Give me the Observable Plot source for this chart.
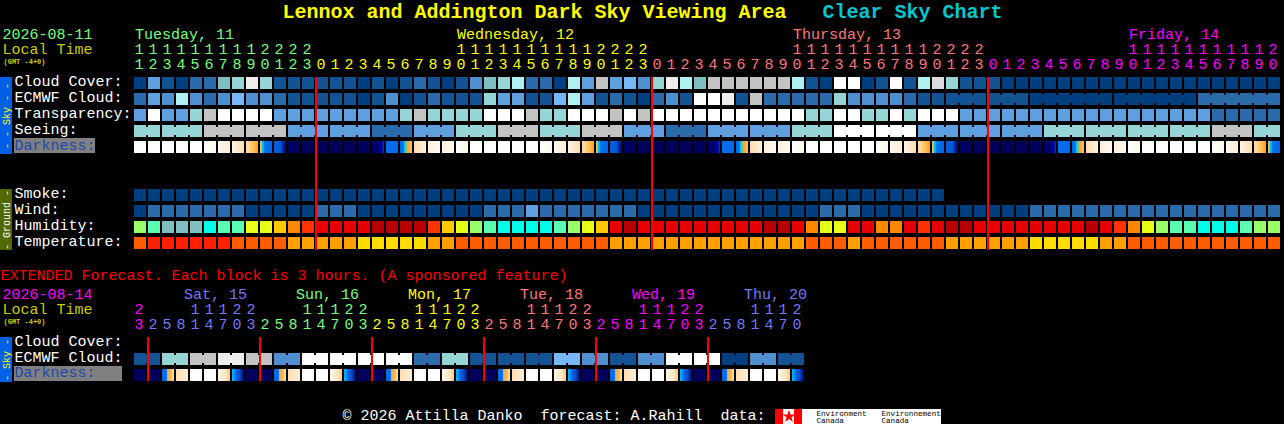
<!DOCTYPE html>
<html><head><meta charset="utf-8">
<script src="https://cdn.jsdelivr.net/npm/d3@7"></script>
<script src="https://cdn.jsdelivr.net/npm/@observablehq/plot@0.6"></script>
<style>html,body{margin:0;padding:0;background:#000;overflow:hidden}svg{display:block}</style>
</head><body><div id="chart"></div>
<script>
// ---------- data: cloud-style levels 0 (overcast) .. 12 (clear), one per hourly column
const hours = [11,12,13,14,15,16,17,18,19,20,21,22,23,
  0,1,2,3,4,5,6,7,8,9,10,11,12,13,14,15,16,17,18,19,20,21,22,23,
  0,1,2,3,4,5,6,7,8,9,10,11,12,13,14,15,16,17,18,19,20,21,22,23,
  0,1,2,3,4,5,6,7,8,9,10,11,12,13,14,15,16,17,18,19,20];
const hourDays = [...Array(13).fill("Tue"),...Array(24).fill("Wed"),...Array(24).fill("Thu"),...Array(21).fill("Fri")];
const cloudCover = [0,4,1,0,2,2,6,7,11,7,1,1,1,1,1,1,0,1,0,1,2,1,0,1,3,6,7,8,2,2,0,8,4,9,4,5,3,7,11,8,6,9,9,9,9,9,9,8,1,0,12,12,0,1,12,1,8,10,7,1,1,1,0,0,0,0,0,0,0,0,0,0,0,0,0,0,0,0,0,0,0,0];
const ecmwfCloud = [2,4,3,8,3,2,3,5,3,3,2,1,1,1,1,1,0,1,3,0,1,2,1,1,1,7,4,4,1,1,5,8,4,1,2,1,0,2,3,1,12,12,11,1,9,2,2,2,2,2,7,3,3,3,3,2,1,1,1,1,1,1,1,1,0,0,0,0,0,0,0,0,0,0,0,0,2,2,2,2,2,2];
const ecmwfSpans = [...Array(58).fill(1),3,3,6,6,6];
const transparency = [4,12,4,4,7,9,12,12,12,12,4,4,4,4,4,4,4,4,4,7,9,7,7,7,7,12,12,12,9,7,7,12,12,12,9,12,9,12,12,12,12,12,12,12,12,12,12,12,7,7,12,12,7,7,12,7,12,12,12,4,4,4,4,4,4,4,4,4,4,4,4,4,4,4,4,4,4,2,2,2,2,2];
const seeing = [7,7,7,7,7,9,9,9,9,9,9,4,4,4,4,4,4,2,2,2,4,4,4,7,7,7,9,9,9,7,7,7,9,9,9,4,4,4,2,2,2,4,4,4,4,4,4,7,7,7,12,12,12,12,12,12,4,4,4,4,4,4,4,4,4,7,7,7,7,7,7,7,7,7,7,7,7,9,9,9,7,7];
const seeingSpans = [2,3,3,3,3,3,3,3,3,3,3,3,3,3,3,3,3,3,3,3,3,3,3,3,3,3,3,2];
const darkness = "W W W W W a b c d e f n n n n n n g h i j k k a W W W W W a b c d e f n n n n n n g h i j k k a W W W W W a b c d e f n n n n n n g h i j k k a W W W W W a b c d e".split(" ");
const smoke = Array(58).fill(0);
const wind = [0,2,2,2,2,2,2,2,0,0,0,0,0,2,2,2,0,0,0,0,0,0,0,0,0,2,2,2,4,2,2,2,2,2,2,2,0,0,0,0,0,0,0,0,0,0,0,0,0,2,2,2,0,0,0,0,0,0,0,0,0,0,0,0,2,2,2,2,2,2,2,2,2,2,2,2,2,2,2,2,2,2];
const humidity = "G H I I I J H H F F E D C B B B B A A A A C E F G H J J J J H G F E B A B B B B B B B B B A A B D F F B B D D B C B A A B B B B B B B B A B C D F G H H J J J H G G".split(" ");
const temperature = [2,1,1,1,1,1,1,2,2,2,2,3,3,3,3,3,4,4,4,4,4,3,3,2,2,2,2,2,2,2,2,2,2,2,3,3,3,3,3,3,3,3,3,3,3,3,3,3,2,2,2,3,2,2,2,2,2,2,3,3,3,3,3,3,4,4,4,4,4,3,3,2,2,2,2,2,2,2,2,2,2,2];
const midnights = [13,37,61];
const dayLabels = [["Tuesday, 11",0,"Tue"],["Wednesday, 12",23,"Wed"],["Thursday, 13",47,"Thu"],["Friday, 14",71,"Fri"]];

const extHours = [23,2,5,8,11,14,17,20,23,2,5,8,11,14,17,20,23,2,5,8,11,14,17,20,23,2,5,8,11,14,17,20,23,2,5,8,11,14,17,20,23,2,5,8,11,14,17,20];
const extDays = ["Fri",...Array(8).fill("Sat"),...Array(8).fill("Sun"),...Array(8).fill("Mon"),...Array(8).fill("TueX"),...Array(8).fill("WedX"),...Array(7).fill("ThuX")];
const extEcmwf = [1,1,7,7,9,9,11,11,9,9,3,3,12,12,12,12,12,12,12,12,2,2,7,7,1,1,1,1,1,1,5,5,3,3,1,1,3,3,12,12,12,12,0,0,3,3,1,1];
const extSpans = Array(24).fill(2);
const extDarkness = "n n p j W W o q n n p j W W o q n n p j W W o q n n p j W W o q n n p j W W o q n n p j W W o q".split(" ");
const extMidnights = [1,9,17,25,33,41];
const extDayLabels = [["Sat, 15",3.5,"Sat"],["Sun, 16",11.5,"Sun"],["Mon, 17",19.5,"Mon"],["Tue, 18",27.5,"TueX"],["Wed, 19",35.5,"WedX"],["Thu, 20",43.5,"ThuX"]];

const rowNames = ["Cloud Cover:","ECMWF Cloud:","Transparency:","Seeing:","Darkness:"];
const groundNames = ["Smoke:","Wind:","Humidity:","Temperature:"];
const extNames = ["Cloud Cover:","ECMWF Cloud:","Darkness:"];

// ---------- palettes
const cloudPalette = ["#003f7f","#135393","#2b6bab","#4f8fcf","#5f9fdf","#77b7f7","#7fbfbf","#95d5d5","#aff0f0","#c3c3c3","#dbdbdb","#ededed","#ffffff"];
const humidityPalette = {A:"#b80000",B:"#e60000",C:"#ff3300",D:"#ff8800",E:"#ffc800",F:"#e8ff18",G:"#98ff68",H:"#58ffb0",I:"#80bfbf",J:"#00ffe8"};
const temperaturePalette = {1:"#ff2000",2:"#ff5c00",3:"#ff9f00",4:"#ffdc00"};
const dayPalette = {Tue:"#77ff77",Wed:"#ffff00",Thu:"#ff7777",Fri:"#ff00ff",Sat:"#7777ff",Sun:"#77ff77",Mon:"#ffff00",TueX:"#ff7777",WedX:"#ff00ff",ThuX:"#7777ff"};
const darkGradients = {
  W:[[0,"#ffffff"],[1,"#ffffff"]],
  a:[[0,"#ffffff"],[1,"#fff6ec"]],
  b:[[0,"#fff8f0"],[1,"#ffecd6"]],
  c:[[0,"#fff2e0"],[1,"#ffdcb0"]],
  d:[[0,"#ffe0b0"],[.6,"#ffc060"],[1,"#ff9c18"]],
  e:[[0,"#e8c860"],[.1,"#c8c070"],[.17,"#00d0f0"],[.3,"#00a8f0"],[.4,"#0070f0"],[1,"#0068e8"]],
  f:[[0,"#0060e0"],[.55,"#0058d8"],[.7,"#0030a8"],[1,"#000078"]],
  n:[[0,"#00005c"],[1,"#00005c"]],
  g:[[0,"#00005c"],[.5,"#000078"],[.8,"#0000a0"],[1,"#0040c0"]],
  h:[[0,"#0070f0"],[1,"#0068e8"]],
  i:[[0,"#0068e8"],[.3,"#0078f0"],[.38,"#00d0f0"],[.5,"#30c8d0"],[.58,"#f8a020"],[1,"#ffc070"]],
  j:[[0,"#ffdcb0"],[1,"#fff0dc"]],
  k:[[0,"#fff0dc"],[1,"#fff8f0"]],
  p:[[0,"#0068e8"],[.38,"#0070f0"],[.46,"#f0b040"],[.7,"#ffb050"],[1,"#ffe8cc"]],
  o:[[0,"#fff8f0"],[.6,"#ffe8c8"],[1,"#ffc880"]],
  q:[[0,"#00c0f0"],[.2,"#0090f0"],[.3,"#0068e8"],[.6,"#0050d0"],[1,"#000078"]]
};

// ---------- layout: column and row units
const COLW = 14, ROWH = 16, LEFT = 134, TOP = 77, W = 1284, H = 424;
const colAt = px => (px - LEFT) / COLW;
const rowAt = px => (px - TOP) / ROWH;
const EXT = rowAt(337);
const GROUND = rowAt(189);

const colorKeys = [], colorVals = [];
const addPal = (pre, obj) => Object.entries(obj).forEach(([k, v]) => { colorKeys.push(pre + k); colorVals.push(v); });
addPal("c", cloudPalette); addPal("h", humidityPalette); addPal("t", temperaturePalette); addPal("d", dayPalette);

const cells = (row, vals, pre) => vals.map((v, col) => ({col, row, key: pre + v}));
const joints = (row, vals, spans, pre) => {
  const out = []; let c = 0;
  for (const s of spans) { for (let i = 0; i < s - 1; i++) out.push({col: c + i, row, key: pre + vals[c + i]}); c += s; }
  return out;
};
const blocks = [
  ...cells(0, cloudCover, "c"), ...cells(1, ecmwfCloud, "c"), ...cells(2, transparency, "c"), ...cells(3, seeing, "c"),
  ...cells(GROUND, smoke, "c"), ...cells(GROUND + 1, wind, "c"), ...cells(GROUND + 2, humidity, "h"), ...cells(GROUND + 3, temperature, "t"),
  ...cells(EXT + 1, extEcmwf, "c")
];
const bridges = [
  ...joints(1, ecmwfCloud, ecmwfSpans, "c"), ...joints(3, seeing, seeingSpans, "c"), ...joints(EXT + 1, extEcmwf, extSpans, "c")
];
const darkCells = [...darkness.map((code, col) => ({col, row: 4, code})), ...extDarkness.map((code, col) => ({col, row: EXT + 2, code}))];

const defsMark = () => {
  const defs = d3.create("svg:defs");
  for (const [id, stops] of Object.entries(darkGradients)) {
    const g = defs.append("linearGradient").attr("id", "dk-" + id);
    for (const [o, c] of stops) g.append("stop").attr("offset", o).attr("stop-color", c);
  }
  return defs.node();
};

const MONO = "Liberation Mono";
const label = (text, px, py, fill, extra = {}) => Plot.text([text], {x: colAt(px), y: rowAt(py), text: d => d, fill, textAnchor: "start", lineAnchor: "middle", fontFamily: MONO, fontSize: 15, dy: -1, ...extra});

const hourMarks = (hs, days, yTens, yUnits) => [
  Plot.text(hs.map((h, col) => ({h, col, day: days[col]})).filter(d => d.h >= 10), {x: "col", y: rowAt(yTens), text: d => String(Math.floor(d.h / 10)), fill: d => "d" + d.day, textAnchor: "start", lineAnchor: "middle", fontFamily: MONO, fontSize: 15, dy: -1}),
  Plot.text(hs.map((h, col) => ({h, col, day: days[col]})), {x: "col", y: rowAt(yUnits), text: d => String(d.h % 10), fill: d => "d" + d.day, textAnchor: "start", lineAnchor: "middle", fontFamily: MONO, fontSize: 15, dy: -1})
];
const dayMarks = (labels, py) => Plot.text(labels, {x: d => d[1], y: rowAt(py), text: d => d[0], fill: d => "d" + d[2], textAnchor: "start", lineAnchor: "middle", fontFamily: MONO, fontSize: 15, dx: 0.5, dy: -1});

const sideBar = (y1, y2, fill) => Plot.rect([0], {x1: colAt(0), x2: colAt(12), y1: rowAt(y1), y2: rowAt(y2), fill});
const sideText = (text, py, fill) => Plot.text([text], {x: colAt(6), y: rowAt(py), text: d => d, rotate: -90, fill, fontFamily: MONO, fontSize: 10, textAnchor: "middle", lineAnchor: "middle"});

const chart = Plot.plot({
  width: W, height: H, margin: 0,
  style: {background: "#000", color: "#fff", display: "block"},
  x: {type: "linear", domain: [colAt(0), colAt(W)], range: [0, W], axis: null},
  y: {type: "linear", domain: [rowAt(0), rowAt(H)], range: [0, H], axis: null},
  color: {type: "ordinal", domain: colorKeys, range: colorVals},
  marks: [
    defsMark,
    // title
    label("Lennox and Addington Dark Sky Viewing Area", 282, 12, "#ffff00", {fontSize: 20, fontWeight: "bold"}),
    label("Clear Sky Chart", 822, 12, "#00c8d0", {fontSize: 20, fontWeight: "bold"}),
    // top header
    label("2026-08-11", 2, 35, "#77ff77"),
    label("Local Time", 2, 50, "#cccc00"),
    label("(GMT -4+0)", 3, 62, "#cccc00", {fontSize: 7, fontWeight: "bold"}),
    dayMarks(dayLabels, 35),
    ...hourMarks(hours, hourDays, 50, 65),
    // side bars
    sideBar(77, 154, "#0060e8"), sideText("- - Sky - -", 115.5, "#ffff00"),
    sideBar(189, 250, "#506800"), sideText("- Ground -", 219.5, "#ffffff"),
    sideBar(337, 382, "#0060e8"), sideText("- Sky -", 359.5, "#ffff00"),
    // row labels
    Plot.rect([0], {x1: colAt(14), x2: colAt(95), y1: rowAt(138), y2: rowAt(153), fill: "#808080"}),
    Plot.rect([0], {x1: colAt(14), x2: colAt(122), y1: rowAt(366), y2: rowAt(381), fill: "#808080"}),
    ...rowNames.map((t, i) => label(t, 14, 82 + i * ROWH, t === "Darkness:" ? "#1f47a8" : "#ffffff")),
    ...groundNames.map((t, i) => label(t, 14, 194 + i * ROWH, "#ffffff")),
    ...extNames.map((t, i) => label(t, 14, 342 + i * 15.5, t === "Darkness:" ? "#1f47a8" : "#ffffff")),
    // blocks
    Plot.rect(blocks, {x1: "col", x2: d => d.col + 1, y1: "row", y2: d => d.row + 1, fill: "key", insetRight: 2, insetBottom: 4}),
    Plot.rect(bridges, {x1: "col", x2: d => d.col + 1, y1: "row", y2: d => d.row + 1, fill: "key", insetLeft: 12, insetTop: 2, insetBottom: 6}),
    ...Object.keys(darkGradients).map(code => Plot.rect(darkCells.filter(d => d.code === code), {x1: "col", x2: d => d.col + 1, y1: "row", y2: d => d.row + 1, fill: `url(#dk-${code})`, insetRight: 2, insetBottom: 4})),
    // midnight rules
    Plot.ruleX(midnights, {x: d => d, y1: rowAt(77), y2: rowAt(250), stroke: "#ff0000", strokeWidth: 2, dx: -0.5}),
    Plot.ruleX(extMidnights, {x: d => d, y1: rowAt(337), y2: rowAt(381), stroke: "#ff0000", strokeWidth: 2, dx: -0.5}),
    // extended section
    label("EXTENDED Forecast. Each block is 3 hours. (A sponsored feature)", 0, 276, "#ff0000"),
    label("2026-08-14", 2, 295, "#ff00ff"),
    label("Local Time", 2, 310, "#cccc00"),
    label("(GMT -4+0)", 3, 322, "#cccc00", {fontSize: 7, fontWeight: "bold"}),
    dayMarks(extDayLabels, 295),
    ...hourMarks(extHours, extDays, 310, 325),
    // footer
    label("\u00a9 2026 Attilla Danko  forecast: A.Rahill  data:", 342, 415.5, "#ffffff", {}),
    Plot.rect([0], {x1: colAt(775), x2: colAt(941), y1: rowAt(409), y2: rowAt(424), fill: "#ffffff"}),
    Plot.rect([0], {x1: colAt(775), x2: colAt(783), y1: rowAt(409), y2: rowAt(424), fill: "#ff0000"}),
    Plot.rect([0], {x1: colAt(794), x2: colAt(802), y1: rowAt(409), y2: rowAt(424), fill: "#ff0000"}),
    Plot.dot([0], {x: colAt(788.5), y: rowAt(416), r: 4, symbol: "star", fill: "#ff0000"}),
    label("Environment", 816, 413, "#000000", {fontSize: 7.6, dy: 0}),
    label("Canada", 816, 420, "#000000", {fontSize: 7.6, dy: 0}),
    label("Environnement", 881, 413, "#000000", {fontSize: 7.6, dy: 0}),
    label("Canada", 881, 420, "#000000", {fontSize: 7.6, dy: 0})
  ]
});
document.getElementById("chart").append(chart);
</script></body></html>
